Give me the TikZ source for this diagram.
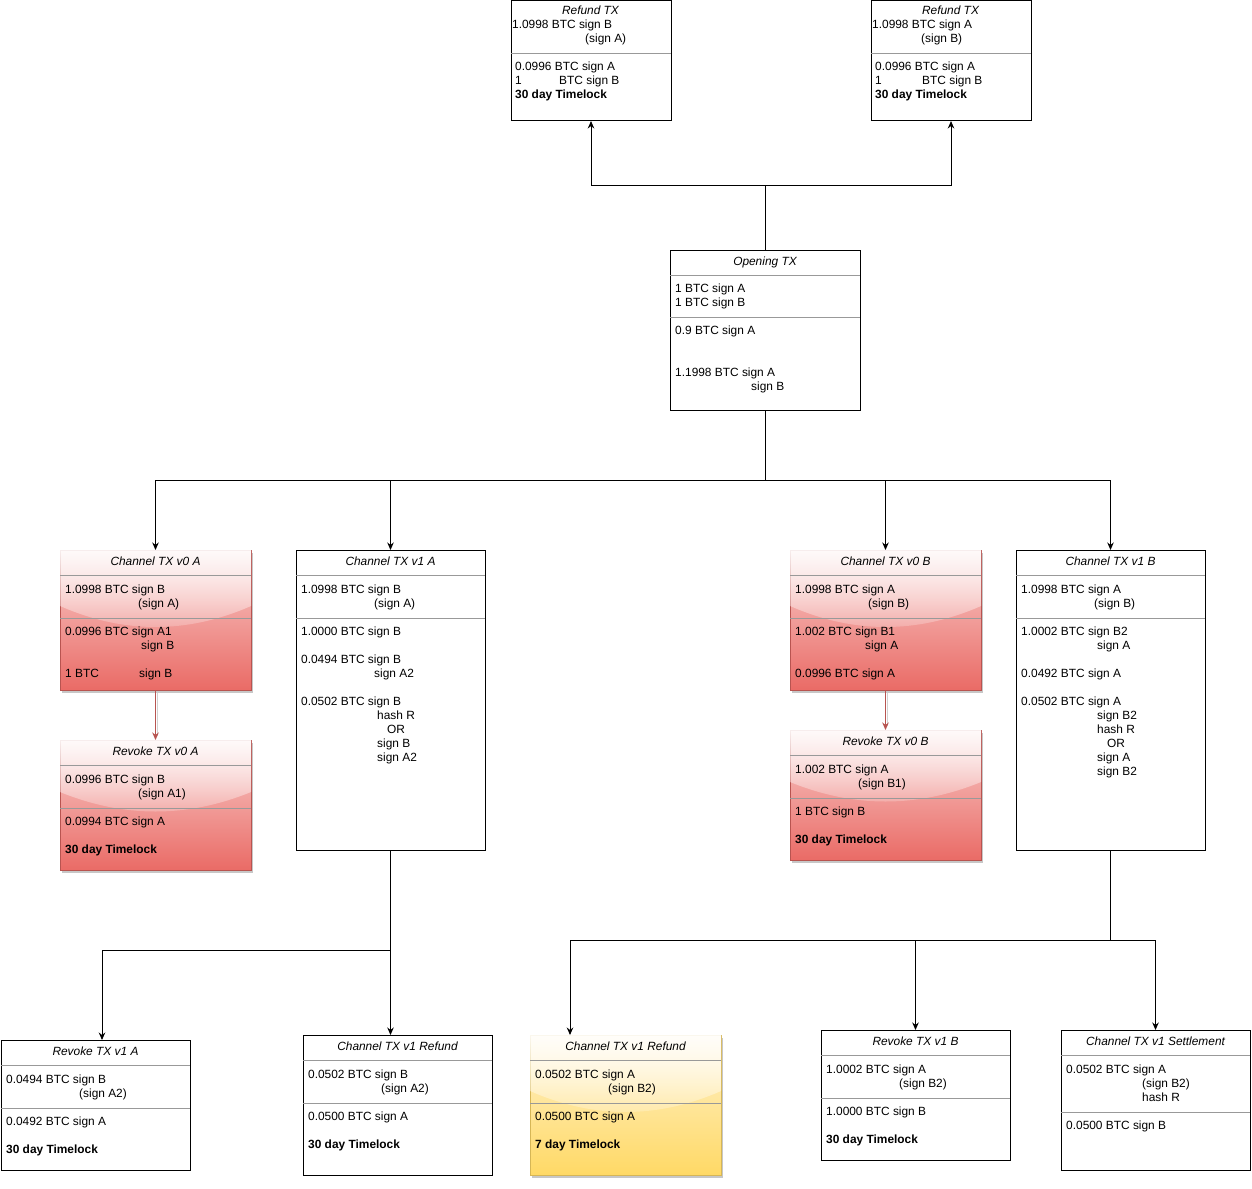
\documentclass[tikz,border=0pt]{standalone}
\usepackage{fontspec}
\setmainfont{Liberation Sans}
\usetikzlibrary{arrows.meta,calc,shadows,fadings}
\definecolor{redS}{HTML}{B85450}
\definecolor{redT}{HTML}{F8CECC}
\definecolor{redB}{HTML}{EA6B66}
\definecolor{yelS}{HTML}{D6B656}
\definecolor{yelT}{HTML}{FFF2CC}
\definecolor{yelB}{HTML}{FFD966}
\definecolor{divc}{HTML}{999999}
\tikzfading[name=glassfade, top color=transparent!10, bottom color=transparent!85]
\newcounter{tl}
\newcommand\Tx[3]{\stepcounter{tl}\node[txt] (t\arabic{tl}) at (#1,#2) {#3};}
\newcommand\Tb[3]{\stepcounter{tl}\node[txt,font=\fs\bfseries] (t\arabic{tl}) at (#1,#2) {#3};}
\newcommand\Tt[3]{\stepcounter{tl}\node[ttl] (t\arabic{tl}) at (#1,#2) {#3};}
\newcommand\Div[2]{\draw[div] ($(#1.north west)+(0,#2)$) -- ($(#1.north east)+(0,#2)$);}
\newcommand\Glass[3]{\fill[glassfill] (#1.north west) -- ($(#1.north west)+(0,{0.4*#3})$) .. controls ($(#1.north west)+({#2/3},{0.6*#3})$) and ($(#1.north west)+({2*#2/3},{0.6*#3})$) .. ($(#1.north east)+(0,{0.4*#3})$) -- (#1.north east) -- cycle;}
\newcommand\fs{\fontsize{11.9pt}{14pt}\selectfont}
\begin{document}
\begin{tikzpicture}[x=1pt,y=-1pt,
  txt/.style={anchor=base west, inner sep=0pt, font=\fs},
  ttl/.style={anchor=base, inner sep=0pt, font=\fs\itshape},
  wbox/.style={draw=black, line width=1pt, fill=white, anchor=north west, inner sep=0pt, outer sep=0pt, rectangle},
  rbox/.style={draw=redS, line width=1pt, top color=redT, bottom color=redB, anchor=north west, inner sep=0pt, outer sep=0pt, rectangle,
     drop shadow={shadow xshift=2pt, shadow yshift=-3pt, fill=black!22, opacity=1}},
  ybox/.style={draw=yelS, line width=1pt, top color=yelT, bottom color=yelB, anchor=north west, inner sep=0pt, outer sep=0pt, rectangle,
     drop shadow={shadow xshift=2pt, shadow yshift=-3pt, fill=black!22, opacity=1}},
  glassfill/.style={fill=white, path fading=glassfade},
  div/.style={draw=divc, line width=0.9pt},
  arr/.style={draw=black, line width=1pt, -{Stealth[length=7.5pt,width=6.5pt]}},
  redarr/.style={draw=redS, line width=1pt, -{Stealth[length=7.5pt,width=6.5pt]}},
  line/.style={draw=black, line width=1pt}]
\useasboundingbox (0,0) rectangle (1252,1188);
\fill[white] (0,0) rectangle (1252,1188);

% ---------- boxes ----------
\node[wbox, minimum width=160pt, minimum height=120pt] (refA) at (511,1) {};
\node[wbox, minimum width=160pt, minimum height=120pt] (refB) at (871,1) {};
\node[wbox, minimum width=190pt, minimum height=160pt] (open) at (670,250) {};
\node[rbox, minimum width=191pt, minimum height=140pt] (c0a) at (60,550) {};
\Glass{c0a}{191}{140}
\node[rbox, minimum width=191pt, minimum height=130pt] (r0a) at (60,740) {};
\Glass{r0a}{191}{130}
\node[wbox, minimum width=189pt, minimum height=300pt] (c1a) at (296,550) {};
\node[rbox, minimum width=191pt, minimum height=140pt] (c0b) at (790,550) {};
\Glass{c0b}{191}{140}
\node[rbox, minimum width=191pt, minimum height=130pt] (r0b) at (790,730) {};
\Glass{r0b}{191}{130}
\node[wbox, minimum width=189pt, minimum height=300pt] (c1b) at (1016,550) {};
\node[wbox, minimum width=189pt, minimum height=130pt] (r1a) at (1,1040) {};
\node[wbox, minimum width=189pt, minimum height=140pt] (cr1) at (303,1035) {};
\node[ybox, minimum width=191pt, minimum height=140pt] (cr2) at (530,1035) {};
\Glass{cr2}{191}{140}
\node[wbox, minimum width=189pt, minimum height=130pt] (r1b) at (821,1030) {};
\node[wbox, minimum width=189pt, minimum height=140pt] (set) at (1061,1030) {};

% ---------- dividers ----------
\Div{refA}{52} \Div{refB}{52}
\Div{open}{25} \Div{open}{67}
\Div{c0a}{25} \Div{c0a}{68}
\Div{r0a}{25} \Div{r0a}{68}
\Div{c1a}{25} \Div{c1a}{68}
\Div{c0b}{25} \Div{c0b}{68}
\Div{r0b}{25} \Div{r0b}{68}
\Div{c1b}{25} \Div{c1b}{68}
\Div{r1a}{25} \Div{r1a}{68}
\Div{cr1}{25} \Div{cr1}{68}
\Div{cr2}{25} \Div{cr2}{68}
\Div{r1b}{25} \Div{r1b}{68}
\Div{set}{25} \Div{set}{82}

% ---------- texts ----------
% Refund TX A
\Tt{590.5}{15}{Refund TX}
\Tx{512}{29}{1.0998 BTC sign B}
\Tx{585}{43}{(sign A)}
\Tx{515}{71}{0.0996 BTC sign A}
\Tx{515}{85}{1}
\Tx{559}{85}{BTC sign B}
\Tb{515}{99}{30 day Timelock}
% Refund TX B
\Tt{950.5}{15}{Refund TX}
\Tx{872}{29}{1.0998 BTC sign A}
\Tx{921}{43}{(sign B)}
\Tx{875}{71}{0.0996 BTC sign A}
\Tx{875}{85}{1}
\Tx{922}{85}{BTC sign B}
\Tb{875}{99}{30 day Timelock}
% Opening
\Tt{765}{265}{Opening TX}
\Tx{675}{292}{1 BTC sign A}
\Tx{675}{306}{1 BTC sign B}
\Tx{675}{334}{0.9 BTC sign A}
\Tx{675}{376}{1.1998 BTC sign A}
\Tx{751}{390}{sign B}
% Channel v0 A
\Tt{155.5}{565}{Channel TX v0 A}
\Tx{65}{593}{1.0998 BTC sign B}
\Tx{138}{607}{(sign A)}
\Tx{65}{635}{0.0996 BTC sign A1}
\Tx{141}{649}{sign B}
\Tx{65}{677}{1 BTC}
\Tx{139}{677}{sign B}
% Revoke v0 A
\Tt{155.5}{755}{Revoke TX v0 A}
\Tx{65}{783}{0.0996 BTC sign B}
\Tx{138}{797}{(sign A1)}
\Tx{65}{825}{0.0994 BTC sign A}
\Tb{65}{853}{30 day Timelock}
% Channel v1 A
\Tt{390.5}{565}{Channel TX v1 A}
\Tx{301}{593}{1.0998 BTC sign B}
\Tx{374}{607}{(sign A)}
\Tx{301}{635}{1.0000 BTC sign B}
\Tx{301}{663}{0.0494 BTC sign B}
\Tx{374}{677}{sign A2}
\Tx{301}{705}{0.0502 BTC sign B}
\Tx{377}{719}{hash R}
\Tx{387}{733}{OR}
\Tx{377}{747}{sign B}
\Tx{377}{761}{sign A2}
% Channel v0 B
\Tt{885.5}{565}{Channel TX v0 B}
\Tx{795}{593}{1.0998 BTC sign A}
\Tx{868}{607}{(sign B)}
\Tx{795}{635}{1.002 BTC sign B1}
\Tx{865}{649}{sign A}
\Tx{795}{677}{0.0996 BTC sign A}
% Revoke v0 B
\Tt{885.5}{745}{Revoke TX v0 B}
\Tx{795}{773}{1.002 BTC sign A}
\Tx{858}{787}{(sign B1)}
\Tx{795}{815}{1 BTC sign B}
\Tb{795}{843}{30 day Timelock}
% Channel v1 B
\Tt{1110.5}{565}{Channel TX v1 B}
\Tx{1021}{593}{1.0998 BTC sign A}
\Tx{1094}{607}{(sign B)}
\Tx{1021}{635}{1.0002 BTC sign B2}
\Tx{1097}{649}{sign A}
\Tx{1021}{677}{0.0492 BTC sign A}
\Tx{1021}{705}{0.0502 BTC sign A}
\Tx{1097}{719}{sign B2}
\Tx{1097}{733}{hash R}
\Tx{1107}{747}{OR}
\Tx{1097}{761}{sign A}
\Tx{1097}{775}{sign B2}
% Revoke v1 A
\Tt{95.5}{1055}{Revoke TX v1 A}
\Tx{6}{1083}{0.0494 BTC sign B}
\Tx{79}{1097}{(sign A2)}
\Tx{6}{1125}{0.0492 BTC sign A}
\Tb{6}{1153}{30 day Timelock}
% Channel v1 Refund (white)
\Tt{397.5}{1050}{Channel TX v1 Refund}
\Tx{308}{1078}{0.0502 BTC sign B}
\Tx{381}{1092}{(sign A2)}
\Tx{308}{1120}{0.0500 BTC sign A}
\Tb{308}{1148}{30 day Timelock}
% Channel v1 Refund (yellow)
\Tt{625.5}{1050}{Channel TX v1 Refund}
\Tx{535}{1078}{0.0502 BTC sign A}
\Tx{608}{1092}{(sign B2)}
\Tx{535}{1120}{0.0500 BTC sign A}
\Tb{535}{1148}{7 day Timelock}
% Revoke v1 B
\Tt{915.5}{1045}{Revoke TX v1 B}
\Tx{826}{1073}{1.0002 BTC sign A}
\Tx{899}{1087}{(sign B2)}
\Tx{826}{1115}{1.0000 BTC sign B}
\Tb{826}{1143}{30 day Timelock}
% Settlement
\Tt{1155.5}{1045}{Channel TX v1 Settlement}
\Tx{1066}{1073}{0.0502 BTC sign A}
\Tx{1142}{1087}{(sign B2)}
\Tx{1142}{1101}{hash R}
\Tx{1066}{1129}{0.0500 BTC sign B}

% ---------- connectors ----------
\coordinate (j1) at (765,185);
\coordinate (j2) at (765,480);
\coordinate (j3) at (390.5,950);
\coordinate (j4) at (1110.5,940);

\draw[line] (open.north) -- (j1);
\draw[arr] (j1) -| (refA.south);
\draw[arr] (j1) -| (refB.south);

\draw[line] (open.south) -- (j2);
\draw[arr] (j2) -| (c0a.north);
\draw[arr] (j2) -| (c1a.north);
\draw[arr] (j2) -| (c0b.north);
\draw[arr] (j2) -| (c1b.north);

\draw[black!18, line width=1pt, shorten >=4pt, shorten <=3pt, transform canvas={xshift=2pt}] (c0a.south) -- (r0a.north);
\draw[redarr] (c0a.south) -- (r0a.north);
\draw[black!18, line width=1pt, shorten >=4pt, shorten <=3pt, transform canvas={xshift=2pt}] (c0b.south) -- (r0b.north);
\draw[redarr] (c0b.south) -- (r0b.north);

\draw[line] (c1a.south) -- (j3);
\draw[arr] (j3) -| ($(r1a.north west)+(101,0)$);
\draw[arr] (j3) -- ($(cr1.north west)+(87.5,0)$);

\draw[line] (c1b.south) -- (j4);
\draw[arr] (j4) -| ($(cr2.north west)+(40,0)$);
\draw[arr] (j4) -| (r1b.north);
\draw[arr] (j4) -| (set.north);
\end{tikzpicture}
\end{document}
